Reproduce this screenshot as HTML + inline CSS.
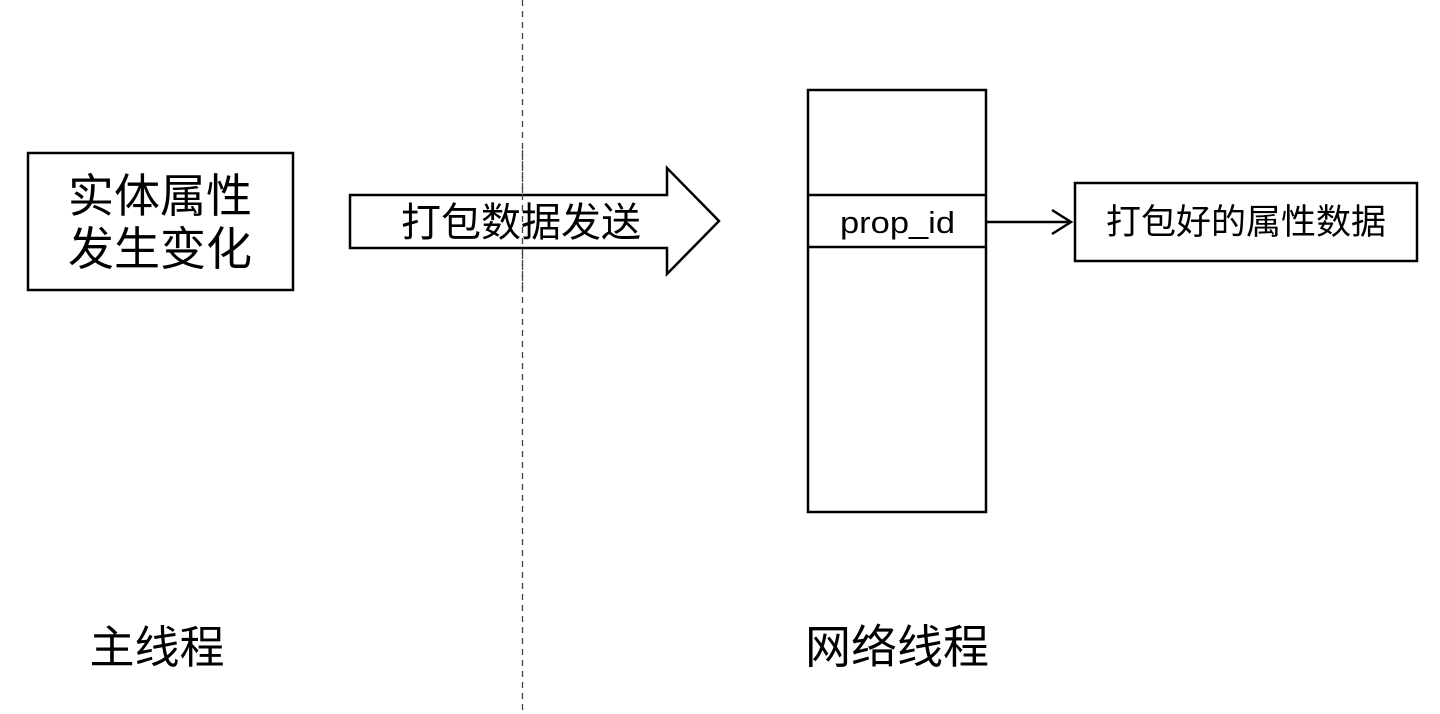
<!DOCTYPE html>
<html><head><meta charset="utf-8"><style>
html,body{margin:0;padding:0;background:#fff;}
svg{display:block;}
text{font-family:"Liberation Sans","Noto Sans CJK SC",sans-serif;fill:#000;}
</style></head><body>
<svg width="1440" height="714" viewBox="0 0 1440 714" xmlns="http://www.w3.org/2000/svg">
<line x1="522.5" y1="0" x2="522.5" y2="714" stroke="#444" stroke-width="1.3" stroke-dasharray="6,5"/>
<rect x="28" y="153" width="265" height="137" fill="#fff" stroke="#000" stroke-width="2.5"/>
<text x="160" y="212" font-size="46" text-anchor="middle">实体属性</text>
<text x="160" y="265" font-size="46" text-anchor="middle">发生变化</text>
<polygon points="350,195 667,195 667,168 719,221 667,274 667,248 350,248" fill="#fff" stroke="#000" stroke-width="2.5"/>
<line x1="522.5" y1="150" x2="522.5" y2="290" stroke="#444" stroke-width="1.3" stroke-dasharray="6,5"/>
<text x="521" y="236" font-size="40" text-anchor="middle">打包数据发送</text>
<rect x="808" y="90" width="178" height="422" fill="#fff" stroke="#000" stroke-width="2.5"/>
<line x1="808" y1="195" x2="986" y2="195" stroke="#000" stroke-width="2.5"/>
<line x1="808" y1="247" x2="986" y2="247" stroke="#000" stroke-width="2.5"/>
<text x="840" y="233" font-size="31" textLength="115" lengthAdjust="spacingAndGlyphs">prop_id</text>
<line x1="986" y1="222" x2="1071" y2="222" stroke="#000" stroke-width="2.5"/>
<polyline points="1052,210 1071,222 1052,234" fill="none" stroke="#000" stroke-width="2.5"/>
<rect x="1075" y="183" width="342" height="78" fill="#fff" stroke="#000" stroke-width="2.5"/>
<text x="1246" y="234" font-size="35" text-anchor="middle">打包好的属性数据</text>
<text x="157" y="663" font-size="45" text-anchor="middle">主线程</text>
<text x="897" y="663" font-size="46" text-anchor="middle">网络线程</text>
</svg>
</body></html>
